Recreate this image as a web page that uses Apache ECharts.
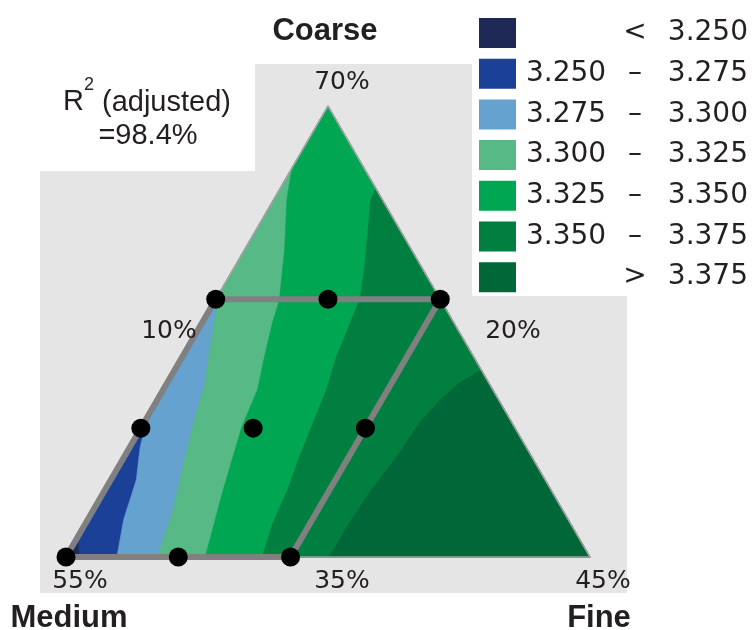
<!DOCTYPE html>
<html>
<head>
<meta charset="utf-8">
<script src="https://cdn.jsdelivr.net/npm/echarts/dist/echarts.min.js"></script>
<style>
html, body { margin: 0; padding: 0; background: #ffffff; }
#chart { width: 753px; height: 630px; }
</style>
</head>
<body>
<div id="chart"></div>
<script>
// ---------------- data ----------------
const componentNames = ['Coarse', 'Medium', 'Fine'];          // top, bottom-left, bottom-right
const vertexTickLabels = ['70%', '55%', '45%'];               // top, bottom-left, bottom-right vertex
const edgeTickLabels = ['10%', '20%', '35%'];                 // left edge, right edge, bottom edge
const bandNames = ['< 3.250', '3.250 – 3.275', '3.275 – 3.300', '3.300 – 3.325',
                   '3.325 – 3.350', '3.350 – 3.375', '> 3.375'];
const bandColors = ['#1e2a55', '#1a4098', '#65a2cf', '#56b986', '#00a651', '#007f40', '#006838'];

// contour lines, points as [Coarse %, Fine %]; each starts on the bottom edge
const contour3250 = [[35, 20.9], [36.6, 20]];
const contour3275 = [[35, 23.4], [37.9, 22.4], [41.0, 21.7], [43.5, 20.7], [45.9, 20]];
const contour3300 = [[35, 26.1], [38.4, 25.4], [42.0, 24.3], [46.2, 23.1], [48.3, 22.6],
                     [51.8, 21.3], [54.9, 20.2], [55.3, 20]];
const contour3325 = [[35, 29.3], [40.2, 27.9], [45.1, 26.7], [48.0, 26.3], [50.5, 25.5],
                     [53.2, 24.7], [54.9, 24.3], [58.8, 22.7], [62.7, 20.9], [65.2, 20]];
const contour3350 = [[35, 33.1], [37.6, 32.5], [40.2, 32.2], [42.8, 31.7], [45.4, 31.3],
                     [48.0, 30.9], [50.5, 30.3], [53.2, 29.9], [55.1, 29.6], [57.5, 28.7],
                     [60.1, 27.6], [62.7, 26.5], [63.6, 26.4]];
const contour3375 = [[35, 37.6], [37.6, 37.6], [40.2, 37.8], [42.8, 38.2], [45.4, 38.4],
                     [47.2, 38.9], [48.5, 39.5], [49.5, 40.5]];

// design points (Coarse %, Fine %)
const designCoarse = [55, 55, 55, 45, 45, 45, 35, 35, 35];
const designFine   = [20, 27.5, 35, 20, 27.5, 35, 20, 27.5, 35];

const r2Main = 'R', r2Sup = '2', r2Adj = '(adjusted)', r2Value = '=98.4%';

// ---------------- ternary helpers ----------------
const COARSE_MAX = 70, MEDIUM_MIN = 10, FINE_MIN = 20, COARSE_MIN = 35, FINE_MAX = 55;
const S3 = Math.sqrt(3) / 2;
function tern(c, f) { return [f + c / 2, c * S3]; }
const T  = tern(COARSE_MAX, FINE_MIN);
const BL = tern(COARSE_MIN, FINE_MIN);
const BR = tern(COARSE_MIN, FINE_MAX);

function aboveRegion(line) {
  const pts = line.map(p => tern(p[0], p[1]));
  const end = line[line.length - 1];
  const onRightEdge = (100 - end[0] - end[1]) <= MEDIUM_MIN + 0.001;
  if (!onRightEdge) pts.push(T);
  pts.push(BR);
  return pts;
}

const contours = [contour3250, contour3275, contour3300, contour3325, contour3350, contour3375];
const bandPolys = [[BL, BR, T]].concat(contours.map(aboveRegion));

function polySeries(name, color, pts) {
  return {
    type: 'custom', name: name, coordinateSystem: 'cartesian2d', z: 2,
    itemStyle: { color: color }, silent: true, animation: false,
    data: [[pts[0][0], pts[0][1]]],
    renderItem: function (params, api) {
      return {
        type: 'polygon',
        shape: { points: pts.map(p => api.coord(p)) },
        style: { fill: color, stroke: color, lineWidth: 0.6 }
      };
    }
  };
}

const series = bandPolys.map((pts, i) => polySeries(bandNames[i], bandColors[i], pts));

// triangle outline
series.push({
  type: 'custom', coordinateSystem: 'cartesian2d', z: 3, silent: true, animation: false,
  data: [[T[0], T[1]]],
  renderItem: function (params, api) {
    return {
      type: 'polygon',
      shape: { points: [BL, BR, T].map(p => api.coord(p)) },
      style: { fill: 'none', stroke: '#a3a3a3', lineWidth: 1.5 }
    };
  }
});

// design region (parallelogram)
const cLo = Math.min(...designCoarse), cHi = Math.max(...designCoarse);
const fLo = Math.min(...designFine), fHi = Math.max(...designFine);
series.push({
  type: 'line', z: 5, silent: true, animation: false, symbol: 'none',
  lineStyle: { color: '#808080', width: 6, join: 'round' },
  data: [tern(cHi, fLo), tern(cHi, fHi), tern(cLo, fHi), tern(cLo, fLo), tern(cHi, fLo)]
});

// design points
series.push({
  type: 'scatter', z: 6, silent: true, animation: false,
  symbolSize: 19, itemStyle: { color: '#000000', opacity: 1 },
  data: designCoarse.map((c, i) => tern(c, designFine[i]))
});

// tick labels anchored to the triangle
const textColor = '#231f20';
const anchors = [
  { p: T,  text: vertexTickLabels[0], off: [14, -24] },
  { p: BL, text: vertexTickLabels[1], off: [14, 24] },
  { p: BR, text: vertexTickLabels[2], off: [13, 24] },
  { p: [(T[0] + BL[0]) / 2, (T[1] + BL[1]) / 2], text: edgeTickLabels[0], off: [-28, 0] },
  { p: [(T[0] + BR[0]) / 2, (T[1] + BR[1]) / 2], text: edgeTickLabels[1], off: [54, 0] },
  { p: [(BL[0] + BR[0]) / 2, BL[1]], text: edgeTickLabels[2], off: [14, 24] }
];
series.push({
  type: 'custom', coordinateSystem: 'cartesian2d', z: 7, silent: true, animation: false,
  data: anchors.map(a => a.p),
  renderItem: function (params, api) {
    const a = anchors[params.dataIndex];
    const pt = api.coord(a.p);
    return {
      type: 'text', x: pt[0] + a.off[0], y: pt[1] + a.off[1],
      style: { text: a.text, font: '25px "DejaVu Sans", sans-serif', fill: textColor,
               align: 'center', verticalAlign: 'middle' }
    };
  }
});

const titleFont = 'bold 31px "Liberation Sans", Arial, sans-serif';
const r2Font = '29px "Liberation Sans", Arial, sans-serif';
const legendFont = { fontFamily: 'DejaVu Sans', fontSize: 28, color: textColor, lineHeight: 30 };

const option = {
  animation: false,
  backgroundColor: '#ffffff',
  grid: { left: 66, top: 106, width: 524, height: 451, containLabel: false },
  xAxis: { type: 'value', min: BL[0], max: BR[0], show: false },
  yAxis: { type: 'value', min: BL[1], max: T[1], show: false },
  legend: {
    orient: 'vertical', left: 479, top: 18, itemWidth: 37, itemHeight: 30, itemGap: 10.7,
    icon: 'rect', selectedMode: false, padding: 0,
    data: bandNames,
    formatter: function (name) {
      let lo = ' ', op, hi;
      if (name[0] === '<' || name[0] === '>') { op = name[0]; hi = name.slice(2); }
      else { const parts = name.split(' – '); lo = parts[0]; op = '–'; hi = parts[1]; }
      return '{a|' + lo + '}{b|' + op + '}{c|' + hi + '}';
    },
    textStyle: Object.assign({}, legendFont, {
      rich: {
        a: Object.assign({ width: 90, align: 'right' }, legendFont),
        b: Object.assign({ width: 48, align: 'center' }, legendFont),
        c: Object.assign({ width: 89, align: 'right' }, legendFont)
      }
    })
  },
  graphic: {
    elements: [
      { type: 'rect', z: 0, silent: true, shape: { x: 40, y: 64, width: 587, height: 529 },
        style: { fill: '#e5e5e5' } },
      { type: 'rect', z: 0, silent: true, shape: { x: 40, y: 64, width: 215, height: 107 },
        style: { fill: '#ffffff' } },
      { type: 'rect', z: 0, silent: true, shape: { x: 472, y: 0, width: 281, height: 296 },
        style: { fill: '#ffffff' } },
      { type: 'text', z: 10, silent: true, x: 325, y: 31,
        style: { text: componentNames[0], font: titleFont, fill: textColor, align: 'center', verticalAlign: 'middle' } },
      { type: 'text', z: 10, silent: true, x: 69, y: 618,
        style: { text: componentNames[1], font: titleFont, fill: textColor, align: 'center', verticalAlign: 'middle' } },
      { type: 'text', z: 10, silent: true, x: 599, y: 618,
        style: { text: componentNames[2], font: titleFont, fill: textColor, align: 'center', verticalAlign: 'middle' } },
      { type: 'text', z: 10, silent: true, x: 63, y: 102,
        style: { text: r2Main, font: r2Font, fill: textColor, align: 'left', verticalAlign: 'middle' } },
      { type: 'text', z: 10, silent: true, x: 89, y: 85,
        style: { text: r2Sup, font: '18px "Liberation Sans", Arial, sans-serif', fill: textColor, align: 'center', verticalAlign: 'middle' } },
      { type: 'text', z: 10, silent: true, x: 102, y: 103,
        style: { text: r2Adj, font: r2Font, fill: textColor, align: 'left', verticalAlign: 'middle' } },
      { type: 'text', z: 10, silent: true, x: 148, y: 136,
        style: { text: r2Value, font: r2Font, fill: textColor, align: 'center', verticalAlign: 'middle' } }
    ]
  },
  series: series
};

const chart = echarts.init(document.getElementById('chart'), null, { renderer: 'canvas' });
chart.setOption(option);
</script>
</body>
</html>
